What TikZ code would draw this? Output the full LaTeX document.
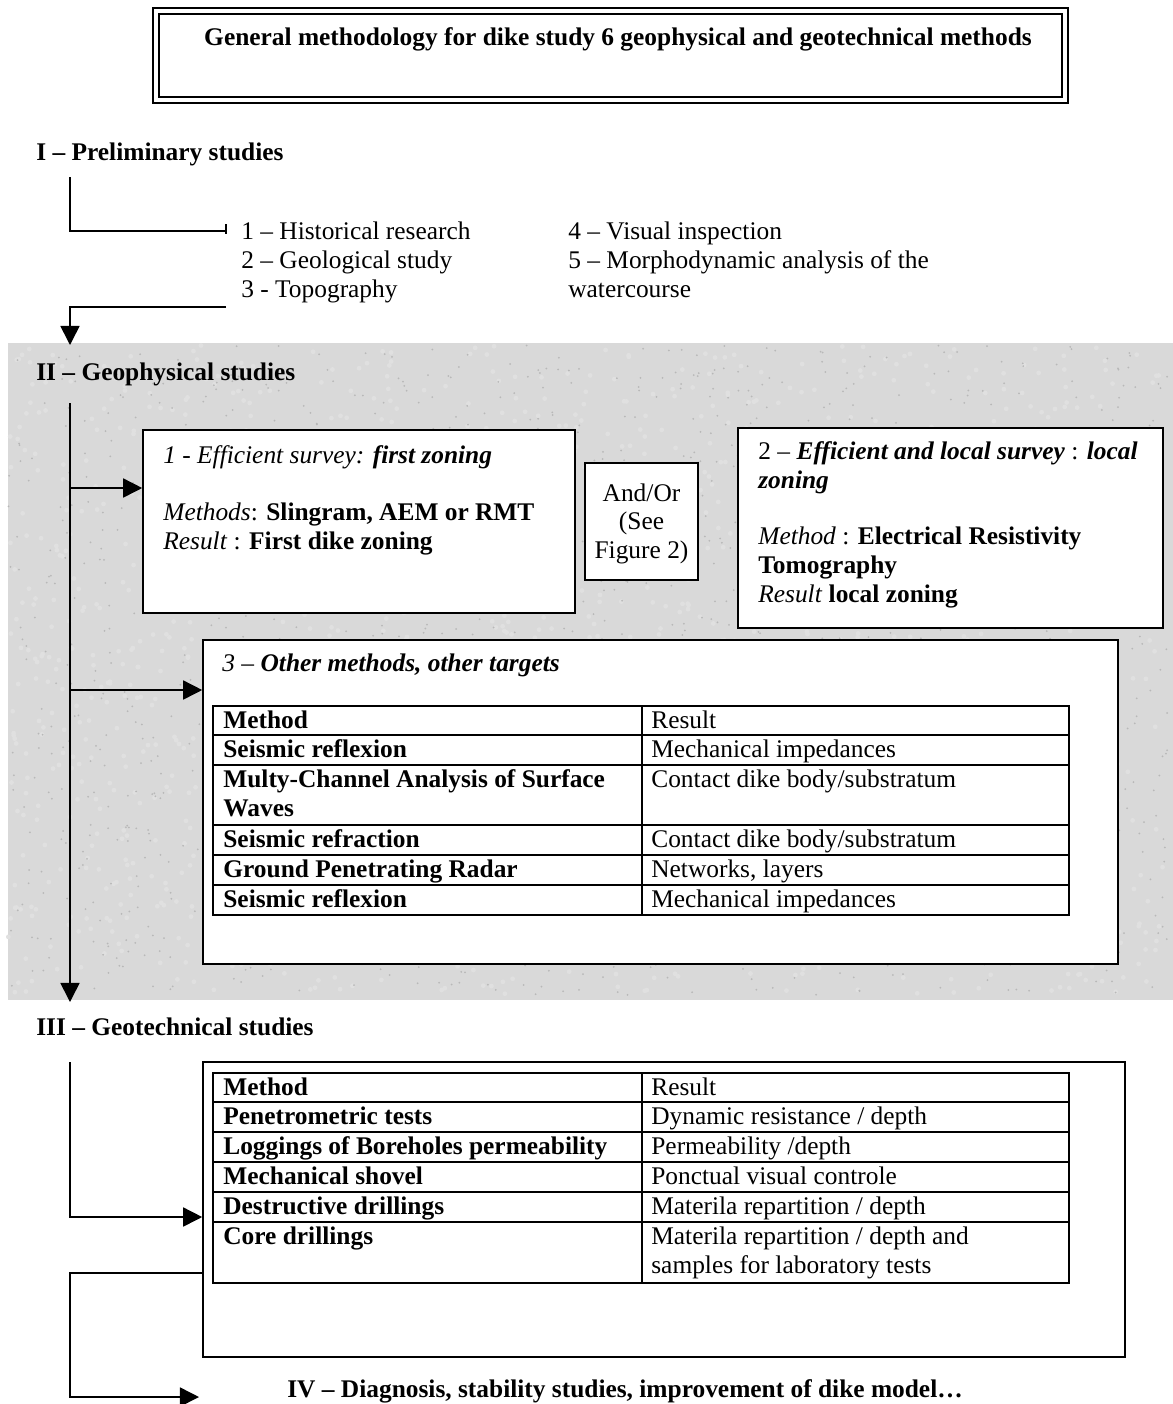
\documentclass[tikz,border=0pt]{standalone}
\usepackage{fontspec}
\setmainfont{Liberation Serif}
\usetikzlibrary{arrows.meta,fit,positioning}

\begin{document}
\begin{tikzpicture}[
    x=0.567pt, y=-0.567pt,
    every node/.style={font=\fontsize{14.4}{16.5}\selectfont},
    txt/.style={anchor=base west, inner sep=0pt},
    head/.style={txt, font=\fontsize{14.4}{16.5}\selectfont\bfseries},
    box/.style={draw, line width=0.9pt, fill=white, inner sep=0pt},
    rule/.style={line width=1.6pt},
    link/.style={line width=0.9pt},
    arrow/.style={link, -{Triangle[length=10.8pt,width=10.8pt]}}
]
\useasboundingbox (0,0) rectangle (1173,1404);

% Fond gris de la partie geophysique
\fill[black!15] (8,343) rectangle (1173,1000);
\pgfmathsetseed{11}
\foreach \i in {1,...,1600} \fill[white!88!black] ({8+1160*rnd},{345+650*rnd}) circle (2.4);
\foreach \i in {1,...,1600} \fill[black!28] ({8+1160*rnd},{345+650*rnd}) circle (1);

% Titre
\node[draw, line width=1.5pt, inner sep=0pt, fit={(153,8) (1068,103)}] (frame) {};
\node[draw, line width=0.6pt, inner sep=0pt, fit={(159,14) (1062,97)}] (frame in) {};
\node[font=\fontsize{14.4}{16.5}\selectfont\bfseries] (title) at (618,39)
    {General methodology for dike study 6 geophysical and geotechnical methods};

% I - etudes preliminaires
\node[head] (pre) at (36,160) {I – Preliminary studies};
\node[txt] (hist) at (241,239) {1 – Historical research};
\node[txt] (geol) at (241,268) {2 – Geological study};
\node[txt] (topo) at (241,297) {3 - Topography};
\node[txt] (visu) at (568,239) {4 – Visual inspection};
\node[txt] (morph) at (568,268) {5 – Morphodynamic analysis of the};
\node[txt] (water) at (568,297) {watercourse};

\coordinate (pre top) at (70,177);
\coordinate (pre tab) at (226,231);
\coordinate (pre out) at (226,307);
\coordinate (geo in) at (70,345);
\draw[link] (pre top) |- (pre tab);
\draw[link] (226,224) -- (226,234);
\draw[arrow] (pre out) -| (geo in);

% II - etudes geophysiques
\node[head] (geo) at (36,380) {II – Geophysical studies};

\node[box, fit={(143,430) (575,613)}] (survey) {};
\node[txt] at (163,463) {\textit{1 - Efficient survey:} \textbf{\textit{first zoning}}};
\node[txt] at (163,520) {\textit{Methods}: \textbf{Slingram, AEM or RMT}};
\node[txt] at (163,549) {\textit{Result} : \textbf{First dike zoning}};

\node[box, fit={(585,463) (698,580)}] (andor) {};
\node[anchor=base, inner sep=0pt] at (641.5,501) {And/Or};
\node[anchor=base, inner sep=0pt] at (641.5,529) {(See};
\node[anchor=base, inner sep=0pt] at (641.5,558) {Figure 2)};

\node[box, fit={(738,428) (1163,628)}] (local) {};
\node[txt] at (758,459) {2 – \textbf{\textit{Efficient and local survey}} : \textbf{\textit{local}}};
\node[txt] at (758,488) {\textbf{\textit{zoning}}};
\node[txt] at (758,544) {\textit{Method} : \textbf{Electrical Resistivity}};
\node[txt] at (758,573) {\textbf{Tomography}};
\node[txt] at (758,602) {\textit{Result} \textbf{local zoning}};

\node[box, fit={(203,640) (1118,964)}] (other) {};
\node[txt] at (222,671) {\textit{3 – }\textbf{\textit{Other methods, other targets}}};

\draw[rule] (213,706) rectangle (1069,915);
\draw[rule] (642,706) -- (642,915);
\foreach \y in {735,765,825,855,885} \draw[rule] (213,\y) -- (1069,\y);
\foreach \m/\r/\y [count=\i] in {Method/Result/728,
    Seismic reflexion/Mechanical impedances/757,
    Multy-Channel Analysis of Surface/{Contact dike body/substratum}/787,
    Seismic refraction/{Contact dike body/substratum}/847,
    Ground Penetrating Radar/{Networks, layers}/877,
    Seismic reflexion/Mechanical impedances/907}
{
    \node[txt, font=\fontsize{14.4}{16.5}\selectfont\bfseries] (gm\i) at (223,\y) {\m};
    \node[txt] (gr\i) at (651,\y) {\r};
}
\node[txt, font=\fontsize{14.4}{16.5}\selectfont\bfseries] (gm3b) at (223,816) {Waves};

\coordinate (geo top) at (70,403);
\coordinate (geo out) at (70,1002);
\coordinate (geo b1) at (70,488);
\coordinate (geo b2) at (70,690);
\draw[arrow] (geo top) -- (geo out);
\draw[arrow] (geo b1) -- (geo b1 -| survey.west);
\draw[arrow] (geo b2) -- (geo b2 -| other.west);

% III - etudes geotechniques
\node[head] (tech) at (36,1035) {III – Geotechnical studies};

\node[box, fit={(203,1062) (1125,1357)}] (tests) {};
\draw[rule] (213,1073) rectangle (1069,1283);
\draw[rule] (642,1073) -- (642,1283);
\foreach \y in {1102,1132,1162,1192,1222} \draw[rule] (213,\y) -- (1069,\y);
\foreach \m/\r/\y [count=\i] in {Method/Result/1095,
    Penetrometric tests/{Dynamic resistance / depth}/1124,
    Loggings of Boreholes permeability/{Permeability /depth}/1154,
    Mechanical shovel/Ponctual visual controle/1184,
    Destructive drillings/{Materila repartition / depth}/1214,
    Core drillings/{Materila repartition / depth and}/1244}
{
    \node[txt, font=\fontsize{14.4}{16.5}\selectfont\bfseries] (tm\i) at (223,\y) {\m};
    \node[txt] (tr\i) at (651,\y) {\r};
}
\node[txt] (tr6b) at (651,1273) {samples for laboratory tests};

\coordinate (tech top) at (70,1062);
\coordinate (tech b1) at (70,1217);
\coordinate (tech b2) at (70,1273);
\coordinate (tech low) at (70,1397);
\coordinate (diag in) at (199,1397);
\draw[arrow] (tech top) |- (tech b1 -| tests.west);
\draw[arrow] (tech b2 -| tests.west) -- (tech b2) -- (tech low) -- (diag in);

% IV - diagnostic
\node[head] (diag) at (287,1397) {IV – Diagnosis, stability studies, improvement of dike model…};

\end{tikzpicture}
\end{document}
